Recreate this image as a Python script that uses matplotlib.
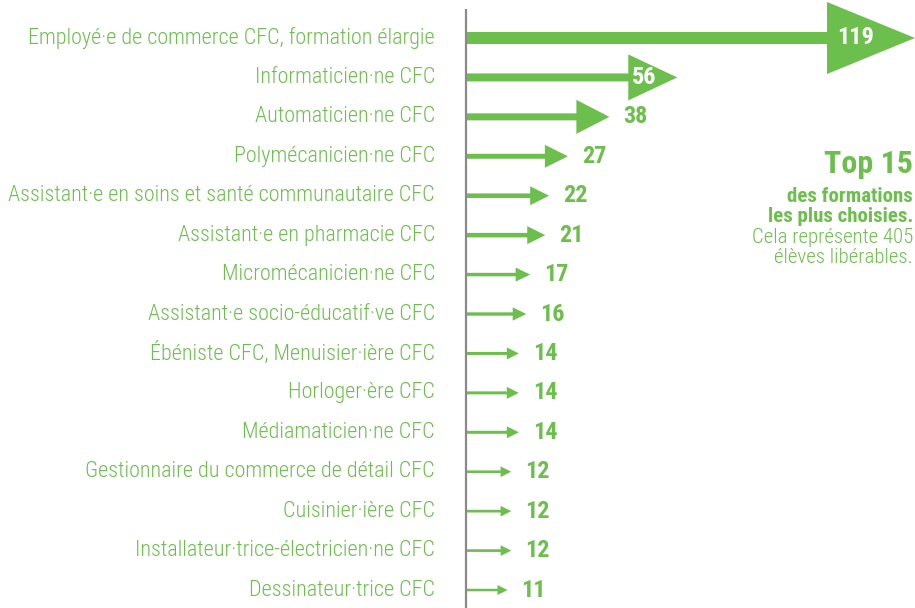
import numpy as np
import matplotlib
matplotlib.use('Agg')
import matplotlib.pyplot as plt
from matplotlib import font_manager
from matplotlib.patches import Polygon

formations = [
    "Employé·e de commerce CFC, formation élargie",
    "Informaticien·ne CFC",
    "Automaticien·ne CFC",
    "Polymécanicien·ne CFC",
    "Assistant·e en soins et santé communautaire CFC",
    "Assistant·e en pharmacie CFC",
    "Micromécanicien·ne CFC",
    "Assistant·e socio-éducatif·ve CFC",
    "Ébéniste CFC, Menuisier·ière CFC",
    "Horloger·ère CFC",
    "Médiamaticien·ne CFC",
    "Gestionnaire du commerce de détail CFC",
    "Cuisinier·ière CFC",
    "Installateur·trice-électricien·ne CFC",
    "Dessinateur·trice CFC",
]
eleves = [119, 56, 38, 27, 22, 21, 17, 16, 14, 14, 14, 12, 12, 12, 11]

GREEN = '#6cbf4c'
GREY = '#8a8a8a'

# pick a narrow font if one is installed
names = {f.name for f in font_manager.fontManager.ttflist}
FONT = None
for cand in ['Roboto Condensed', 'Liberation Sans Narrow', 'Open Sans Condensed']:
    if cand in names:
        FONT = cand
        break
STRETCH = 'normal'
scale = 1.0
if FONT is None:
    if any(f.name == 'DejaVu Sans' and f.stretch == 'condensed'
           for f in font_manager.fontManager.ttflist):
        FONT, STRETCH = 'DejaVu Sans', 'condensed'
        scale = 0.85
    else:
        FONT = 'Roboto'
        scale = 0.78
plt.rcParams['font.family'] = [FONT, 'DejaVu Sans']
plt.rcParams['font.stretch'] = STRETCH

W, H = 915, 608
fig = plt.figure(figsize=(W / 100, H / 100), dpi=100)
x0, x1 = 466, 915
ax = fig.add_axes([x0 / W, 0, (x1 - x0) / W, 1])
row = 39.43
ax.set_xlim(0, 119)
ax.set_ylim((H - 38) / row, -38 / row)
ax.axis('off')

# px -> data units
px_x = 119 / (x1 - x0)
px_y = 1 / row

# arrow style vs value
ref_v = [11, 14, 17, 21, 27, 38, 56, 119]
ref_head_h = [10, 12, 14, 18, 23, 34, 46, 72]
ref_head_l = [10, 12, 14.5, 18, 23, 33, 49, 88]
ref_shaft = [2.5, 3, 3.5, 4.5, 5, 7, 8, 12]

ax.plot([0, 0], [(H - 38) / row, (9 - 38) / row], color=GREY, lw=1.6,
        clip_on=False, solid_capstyle='butt')

for i, (lab, v) in enumerate(zip(formations, eleves)):
    hh = np.interp(v, ref_v, ref_head_h) * px_y / 2
    hl = np.interp(v, ref_v, ref_head_l) * px_x
    sw = np.interp(v, ref_v, ref_shaft) * px_y / 2
    pts = [(0, i - sw), (v - hl, i - sw), (v - hl, i - hh), (v, i),
           (v - hl, i + hh), (v - hl, i + sw), (0, i + sw)]
    ax.add_patch(Polygon(pts, closed=True, color=GREEN, lw=0, clip_on=False))

    ax.annotate(lab, xy=(0, i), xytext=(-31, 0), textcoords='offset pixels',
                ha='right', va='center', fontsize=15.9 * scale, color=GREEN,
                fontweight='light')
    if v > 50:
        ax.text(v - hl + 0.32 * hl, i, str(v), ha='center', va='center',
                fontsize=17.5 * scale, fontweight='bold', color='white')
    else:
        ax.annotate(str(v), xy=(v, i), xytext=(14, 0), textcoords='offset pixels',
                    ha='left', va='center', fontsize=17.5 * scale,
                    fontweight='bold', color=GREEN)

# side note
xr = 913 / W
side_fs = 15 * scale
fig.text(xr, 1 - 173 / H, "Top 15", ha='right', va='baseline',
         fontsize=23 * scale, fontweight='bold', color=GREEN)
side = [("des formations", 'bold', 202), ("les plus choisies.", 'bold', 222),
        ("Cela représente 405", 'light', 243), ("élèves libérables.", 'light', 263)]
for txt, wt, yb in side:
    fig.text(xr, 1 - yb / H, txt, ha='right', va='baseline',
             fontsize=side_fs, fontweight=wt, color=GREEN)

fig.savefig('out.png', dpi=100)
